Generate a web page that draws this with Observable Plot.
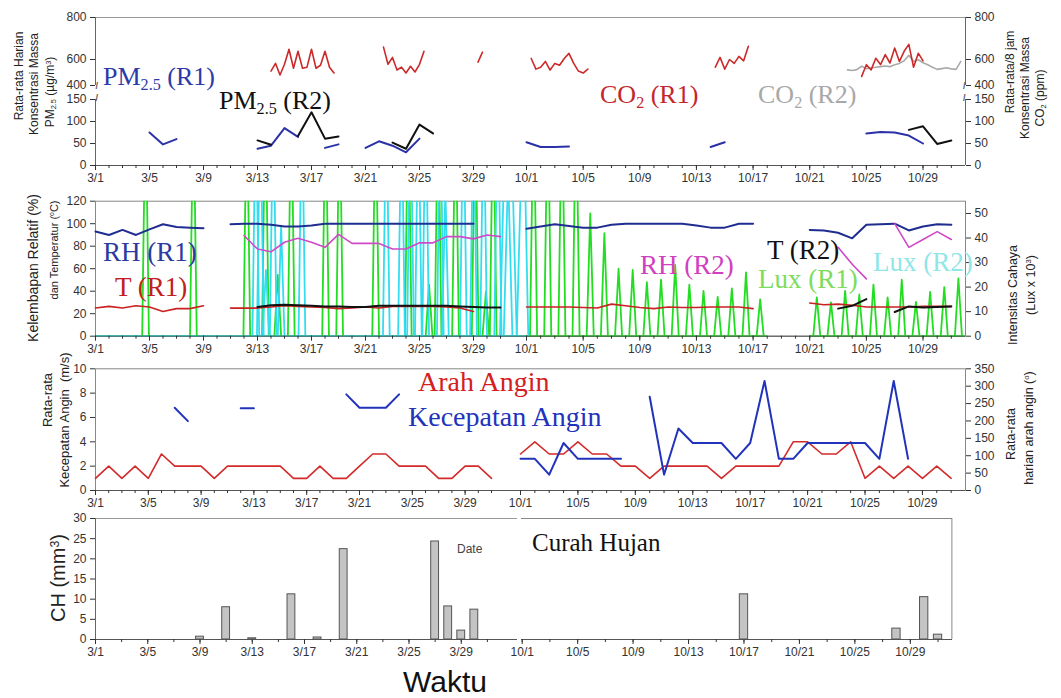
<!DOCTYPE html>
<html>
<head>
<meta charset="utf-8">
<script src="https://cdn.jsdelivr.net/npm/d3@7"></script>
<script src="https://cdn.jsdelivr.net/npm/@observablehq/plot@0.6"></script>
<style>
  html, body { margin: 0; padding: 0; background: #fff; }
  #chart { position: relative; width: 1061px; height: 698px; overflow: hidden; background: #fff; }
  #chart svg { position: absolute; }
  .t { position: absolute; white-space: nowrap; line-height: 1; font-family: "Liberation Serif", "Times New Roman", serif; }
  .s { position: absolute; white-space: nowrap; line-height: 1; font-family: "Liberation Sans", Arial, sans-serif; }
  .v { position: absolute; white-space: nowrap; line-height: 1; font-family: "Liberation Sans", Arial, sans-serif; color: #222; transform: translate(-50%, -50%) rotate(-90deg); }
  sub { font-size: 0.62em; vertical-align: -0.28em; line-height: 0; }
  sup { font-size: 0.62em; vertical-align: 0.45em; line-height: 0; }
</style>
</head>
<body>
<div id="chart"></div>
<script>
// ================= DATA =================
// x axis tick labels (March then October)
const tickLabels = ["3/1","3/5","3/9","3/13","3/17","3/21","3/25","3/29",
                    "10/1","10/5","10/9","10/13","10/17","10/21","10/25","10/29"];

// Panel 1: daily PM2.5 (ug/m3)
const pm25R1 = [
  {start: "3/5",  values: [75, 48, 60]},
  {start: "3/13", values: [38, 45, 85, 65]},
  {start: "3/18", values: [40, 48]},
  {start: "3/21", values: [40, 55, 45, 30, 61]},
  {start: "10/1", values: [53, 42, 42, 43]},
  {start: "10/14", values: [42, 53]},
  {start: "10/25", values: [73, 76, 75, 68, 50]}
];
const pm25R2 = [
  {start: "3/13", values: [57, 47]},
  {start: "3/16", values: [67, 121, 61, 66]},
  {start: "3/23", values: [52, 38, 93, 73]},
  {start: "10/28", values: [81, 89, 49, 57]}
];
// Panel 1: 8-hourly CO2 (ppm), start date + start hour
const co2R1 = [
  {start: "3/14", hour: 0,  values: [511, 570, 481, 563, 649, 533, 639, 533, 541, 649, 533, 556, 639, 541, 496]},
  {start: "3/22", hour: 8,  values: [659, 563, 610, 519, 541, 496, 548, 504, 563, 639]},
  {start: "3/29", hour: 8,  values: [580, 635]},
  {start: "10/1", hour: 8,  values: [605, 526, 541, 585, 519, 570, 556, 605, 629, 570, 511, 496, 526]},
  {start: "10/14", hour: 8, values: [541, 610, 526, 600, 570, 615, 590, 663]},
  {start: "10/24", hour: 16, values: [470, 560, 520, 606, 561, 623, 573, 655, 585, 639, 672, 540, 630, 590]}
];
const co2R2 = [
  {start: "10/23", hour: 16, values: [520, 515, 522, 548, 530, 535, 540, 545, 550, 545, 560, 570, 590, 620, 585, 598, 575, 560, 540, 524, 530, 536, 528, 524, 585]}
];
const pmTicks = [0, 50, 100, 150, 400, 600, 800];

// Panel 2: daily RH (%) and T (C)
const rhR1 = [
  {start: "3/1",  values: [93, 90, 94.5, 90, 95, 99.5, 97, 96.5, 96]},
  {start: "3/11", values: [99.5, 100, 100, 99, 97.5, 97.5, 98.5, 100, 100, 100, 100, 100, 100, 100, 100, 100, 100, 100, 100]},
  {start: "10/1", values: [95.5, 97.5, 99.5, 98, 96.5, 96.5, 99, 100, 100, 100, 100, 100, 98.5, 96.5, 96.5, 100, 100]},
  {start: "10/21", values: [94.5, 94, 92, 87, 99, 99.5, 100, 94, 97.5, 99.5, 99]}
];
const rhR2 = [
  {start: "3/12", values: [89.5, 77.5, 75, 83.5, 87, 83.5, 79, 90.5, 82.5, 82.5, 82.5, 77.5, 77.5, 83, 83, 88.5, 88.5, 86.5, 90, 88.5]},
  {start: "10/23", values: [79, 64, 51]},
  {start: "10/27", values: [100, 79, 86, 93, 86]}
];
const tR1 = [
  {start: "3/1",  values: [25, 26.5, 25, 27, 26, 22, 24.5, 24.5, 27]},
  {start: "3/11", values: [25, 25, 25, 26, 27, 26.5, 26, 25.5, 24.5, 25, 26, 25, 26.5, 26.5, 26.5, 26.5, 26, 25, 22]},
  {start: "10/1", values: [26, 26, 26, 26, 25.5, 25, 28.5, 27, 25.5, 24.5, 26, 25.5, 25.5, 26, 26, 26, 24.5]},
  {start: "10/21", values: [29.5, 28, 28.5, 27.5, 26, 26, 26, 26, 26.5, 26.5, 26.5]}
];
const tR2 = [
  {start: "3/13", values: [26, 27.5, 28, 27.5, 27, 26.5, 26.5, 26, 26, 27, 27, 27, 27, 27, 27, 26.5, 26, 25.5, 25.5]},
  {start: "10/23", values: [24.5, 27, 33]},
  {start: "10/27", values: [21.5, 26.5, 25.5, 26, 26.5]}
];
// Panel 2: light intensity (Lux x 1000) - recording spans and daily peaks [date, hour, peak]
const luxR1Spans = [["3/1", "3/31"], ["10/1", "10/17"], ["10/21", "10/31"]];
const luxR1Peaks = [
  ["3/4",17,100],["3/8",6,100],["3/12",5,100],["3/13",14,100],["3/14",12,25],["3/15",12,100],
  ["3/18",1,100],["3/19",2,100],["3/21",18,100],["3/24",4,100],["3/25",17,21],["3/26",9,100],
  ["3/27",16,100],["3/29",3,100],["3/29",22,18],["3/30",11,100],
  ["10/1",12,100],["10/2",12,100],["10/3",12,100],["10/4",12,100],["10/5",12,50],["10/6",12,42],
  ["10/7",12,27.5],["10/8",12,27],["10/9",12,22],["10/10",12,23],["10/11",12,29],["10/12",12,21],
  ["10/13",12,18.5],["10/14",12,16],["10/15",12,19.5],["10/16",12,26],["10/17",12,15],
  ["10/21",12,15.8],["10/22",12,13.8],["10/23",12,18.5],["10/24",12,17],["10/25",12,21],["10/26",12,15.8],
  ["10/27",12,23],["10/28",12,14],["10/29",12,18],["10/30",12,20],["10/31",12,23.5]
];
const luxR2Spans = [["3/1", "3/31"]];
const luxR2Peaks = [
  ["3/12",21,100],["3/13",5,100],["3/13",15,27],["3/14",4,100],["3/14",18,45],["3/16",7,100],
  ["3/22",13,100],["3/23",16,100],["3/24",8,100],["3/24",22,100],["3/25",11,100],["3/26",13,100],
  ["3/26",22,60],["3/28",6,100],["3/29",0,100],["3/29",18,100],["3/30",19,100],["3/31",5,100],
  ["3/31",9,100],["3/31",21,100]
];
const rhTicks = [0, 20, 40, 60, 80, 100, 120];
const luxTicks = [0, 10, 20, 30, 40, 50];

// Panel 3: wind
const windDirMarch = [35,70,35,70,35,105,70,70,70,35,70,70,70,70,70,35,35,70,35,35,70,105,105,70,70,70,35,35,70,70,35];
const windDirOct   = [105,140,105,105,140,105,105,70,70,35,70,70,70,70,35,70,70,70,70,140,140,105,105,140,35,70,35,70,35,70,35];
const windSpeed = [
  {start: "3/7",  values: [6.8, 5.7]},
  {start: "3/12", values: [6.75, 6.75]},
  {start: "3/20", values: [7.9, 6.8, 6.8, 6.8, 7.9]},
  {start: "10/1", values: [2.6, 2.6, 1.3, 3.9, 2.6, 2.6, 2.6, 2.6]},
  {start: "10/10", values: [7.7, 1.3, 5.1, 3.9, 3.9, 3.9, 2.6, 3.9, 9.0, 2.6, 2.6, 3.9, 3.9, 3.9, 3.9, 3.9, 2.6, 9.0, 2.6]}
];
const speedTicks = [0, 2, 4, 6, 8, 10];
const dirTicks = [0, 50, 100, 150, 200, 250, 300, 350];

// Panel 4: rainfall
const rainDates  = ["3/9","3/11","3/13","3/16","3/18","3/20","3/27","3/28","3/29","3/30","10/17","10/28","10/30","10/31"];
const rainValues = [0.7, 8.0, 0.3, 11.2, 0.5, 22.4, 24.3, 8.2, 2.2, 7.4, 11.2, 2.7, 10.5, 1.2];
const rainTicks = [0, 5, 10, 15, 20, 25, 30];

// ================= HELPERS =================
const dayIndex = s => { const [m, d] = s.split("/").map(Number); return m === 3 ? d - 1 : 30 + d; };
const majorTicks = tickLabels.map(dayIndex);
const labelOf = i => tickLabels[majorTicks.indexOf(i)] ?? "";
const seriesRows = (segs, stepHours = 24) => segs.flatMap((s, k) => {
  const t0 = dayIndex(s.start) + (s.hour || 0) / 24;
  return s.values.map((v, i) => ({t: t0 + i * stepHours / 24, v, seg: k}));
});
const spikeRows = peaks => peaks.flatMap(([d, h, v], k) => {
  const t = dayIndex(d) + h / 24;
  return [{t: t - 0.25, v: 0, k}, {t, v, k}, {t: t + 0.25, v: 0, k}];
});
const spanRows = spans => spans.map(([a, b]) => ({a: dayIndex(a), b: dayIndex(b) + 1}));
const style = {background: "transparent", fontFamily: '"Liberation Sans", Arial, sans-serif', fontSize: "12px", color: "#333", overflow: "visible"};
const xAxes = (minor, majors) => [
  Plot.axisX({ticks: minor, tickSize: 3, tickFormat: () => "", label: null}),
  Plot.axisX({ticks: majors, tickSize: 5, tickPadding: 3, tickFormat: labelOf, label: null})
];
const allDays = d3.range(0, 62);
const chart = document.getElementById("chart");
function place(svg, top, left = 0) { svg.style.top = top + "px"; svg.style.left = left + "px"; chart.appendChild(svg); }

// ================= PANEL 1 =================
const breakMark = (anchor, dy) => Plot.text(["/"], {frameAnchor: anchor, dy, fontSize: 9, fontWeight: "bold", fill: "#555"});
const p1 = Plot.plot({
  width: 1061, height: 190, marginLeft: 95, marginRight: 96, marginTop: 17, marginBottom: 25,
  x: {type: "linear", domain: [0, 30, 31, 62], range: [95, 500, 526, 965], axis: null},
  y: {type: "linear", domain: [0, 150, 400, 600, 800], range: [165, 99, 85, 59, 17], axis: null},
  style,
  marks: [
    Plot.ruleY([800], {stroke: "#999"}),
    Plot.ruleY([0], {stroke: "#555"}),
    Plot.ruleX([0, 62], {y1: 0, y2: 150, stroke: "#666"}),
    Plot.ruleX([0, 62], {y1: 400, y2: 800, stroke: "#666"}),
    breakMark("left", -5), breakMark("left", 7),
    breakMark("right", -5), breakMark("right", 7),
    Plot.axisY({ticks: pmTicks, tickSize: 5, label: null}),
    Plot.axisY({ticks: pmTicks, tickSize: 5, anchor: "right", label: null}),
    ...xAxes(allDays, majorTicks),
    Plot.line(seriesRows(co2R2, 8), {x: "t", y: "v", z: "seg", stroke: "#aaaaaa", strokeWidth: 1.6}),
    Plot.line(seriesRows(co2R1, 8), {x: "t", y: "v", z: "seg", stroke: "#cc2a2a", strokeWidth: 1.6}),
    Plot.line(seriesRows(pm25R1), {x: "t", y: "v", z: "seg", stroke: "#2b32a8", strokeWidth: 2}),
    Plot.line(seriesRows(pm25R2), {x: "t", y: "v", z: "seg", stroke: "#111", strokeWidth: 2})
  ]
});
place(p1, 0);

// ================= PANEL 2 =================
const luxK = 120 / 55;
const p2 = Plot.plot({
  width: 1061, height: 172, marginLeft: 95, marginRight: 96, marginTop: 10.7, marginBottom: 26.3,
  x: {type: "linear", domain: [0, 30, 31, 62], range: [95, 500, 526, 965], axis: null},
  y: {domain: [0, 120], axis: null},
  style,
  marks: [
    Plot.frame({stroke: "#888"}),
    Plot.ruleY(spanRows(luxR1Spans), {x1: "a", x2: "b", y: 0, stroke: "#22dd22", strokeWidth: 1.8}),
    Plot.ruleY(spanRows(luxR2Spans), {x1: "a", x2: "b", y: 0, stroke: "#33ddf0", strokeWidth: 1.8}),
    Plot.line(spikeRows(luxR1Peaks), {x: "t", y: d => d.v * luxK, z: "k", stroke: "#22dd22", strokeWidth: 1.8, clip: true}),
    Plot.line(spikeRows(luxR2Peaks), {x: "t", y: d => d.v * luxK, z: "k", stroke: "#33ddf0", strokeWidth: 1.8, clip: true}),
    Plot.ruleY([0], {stroke: "#555"}),
    Plot.axisY({ticks: rhTicks, tickSize: 5, label: null}),
    Plot.axisY({ticks: luxTicks.map(v => v * luxK), tickFormat: v => Math.round(v / luxK), tickSize: 5, anchor: "right", label: null}),
    ...xAxes(allDays, majorTicks),
    Plot.line(seriesRows(rhR1), {x: "t", y: "v", z: "seg", stroke: "#1e2d8f", strokeWidth: 2}),
    Plot.line(seriesRows(rhR2), {x: "t", y: "v", z: "seg", stroke: "#d048c8", strokeWidth: 1.6}),
    Plot.line(seriesRows(tR1), {x: "t", y: "v", z: "seg", stroke: "#c82222", strokeWidth: 1.6}),
    Plot.line(seriesRows(tR2), {x: "t", y: "v", z: "seg", stroke: "#111", strokeWidth: 2})
  ]
});
place(p2, 190);

// ================= PANEL 3 =================
const dirK = 10 / 350;
const windDir = [{start: "3/1", values: windDirMarch}, {start: "10/1", values: windDirOct}];
const p3 = Plot.plot({
  width: 1061, height: 146, marginLeft: 95, marginRight: 96, marginTop: 6.3, marginBottom: 18,
  x: {type: "linear", domain: [0, 30, 31, 62], range: [95, 491, 520, 965], axis: null},
  y: {domain: [0, 10], axis: null},
  style,
  marks: [
    Plot.frame({stroke: "#888"}),
    Plot.ruleY([0], {stroke: "#555"}),
    Plot.axisY({ticks: speedTicks, tickSize: 5, label: null}),
    Plot.axisY({ticks: dirTicks.map(v => v * dirK), tickFormat: v => Math.round(v / dirK), tickSize: 5, anchor: "right", label: null}),
    ...xAxes(allDays, majorTicks),
    Plot.line(seriesRows(windDir), {x: "t", y: d => d.v * dirK, z: "seg", stroke: "#d42a2a", strokeWidth: 1.6}),
    Plot.line(seriesRows(windSpeed), {x: "t", y: "v", z: "seg", stroke: "#2233bb", strokeWidth: 2})
  ]
});
place(p3, 362);

// ================= PANEL 4 =================
const rain = rainDates.map((d, i) => ({t: dayIndex(d), v: rainValues[i]}));
const barMarks = data => Plot.rectY(data, {x1: d => d.t - 0.3, x2: d => d.t + 0.3, y: "v", fill: "#c4c4c4", stroke: "#555", strokeWidth: 1});
const p4a = Plot.plot({
  width: 519, height: 160, marginLeft: 95, marginRight: 2, marginTop: 10, marginBottom: 29,
  x: {type: "linear", domain: [0, 32], range: [95, 513], axis: null},
  y: {domain: [0, 30], axis: null},
  style,
  marks: [
    Plot.ruleY([30], {stroke: "#999"}),
    Plot.ruleX([0], {y1: 0, y2: 30, stroke: "#666"}),
    Plot.ruleY([0], {stroke: "#555"}),
    Plot.axisY({ticks: rainTicks, tickSize: 5, label: null}),
    ...xAxes(d3.range(0, 32, 2), majorTicks.filter(i => i <= 30)),
    barMarks(rain.filter(d => d.t <= 30))
  ]
});
place(p4a, 508, 0);
const p4b = Plot.plot({
  width: 542, height: 160, marginLeft: 2, marginRight: 109, marginTop: 10, marginBottom: 29,
  x: {type: "linear", domain: [31, 62], range: [2.7, 432.4], axis: null},
  y: {domain: [0, 30], axis: null},
  style,
  marks: [
    Plot.ruleY([30], {stroke: "#888"}),
    Plot.ruleX([62], {y1: 0, y2: 30, stroke: "#888"}),
    Plot.ruleY([0], {stroke: "#555"}),
    ...xAxes(d3.range(31, 63, 2), majorTicks.filter(i => i > 30)),
    barMarks(rain.filter(d => d.t > 30))
  ]
});
place(p4b, 508, 519);

// ================= TEXT =================
function txt(html, left, top, size, color, cls = "t") {
  const el = document.createElement("div");
  el.className = cls; el.innerHTML = html;
  Object.assign(el.style, {left: left + "px", top: top + "px", fontSize: size + "px", color});
  chart.appendChild(el);
}
function vtxt(html, cx, cy, size) {
  const el = document.createElement("div");
  el.className = "v"; el.innerHTML = html;
  Object.assign(el.style, {left: cx + "px", top: cy + "px", fontSize: size + "px"});
  chart.appendChild(el);
}
// panel 1
txt("PM<sub>2.5</sub> (R1)", 103, 64, 26, "#2b3aa8");
txt("PM<sub>2.5</sub> (R2)", 219, 88, 26, "#111");
txt("CO<sub>2</sub> (R1)", 600, 82, 26, "#c4262b");
txt("CO<sub>2</sub> (R2)", 758, 82, 26, "#a8a8a8");
vtxt("Rata-rata Harian", 19, 76, 12);
vtxt("Konsentrasi Massa", 34, 84, 12);
vtxt("PM<sub>2.5</sub> (&micro;g/m<sup>3</sup>)", 50, 92, 12);
vtxt("Rata-rata/8 jam", 1010, 72, 12);
vtxt("Konsentrasi Massa", 1025, 88, 12);
vtxt("CO<sub>2</sub> (ppm)", 1040, 98, 12);
// panel 2
txt("RH (R1)", 103, 239, 27, "#2b3aa0");
txt("T (R1)", 115, 274, 27, "#c02020");
txt("RH (R2)", 640, 252, 27, "#d040c0");
txt("T (R2)", 767, 237, 27, "#111");
txt("Lux (R1)", 758, 266, 27, "#7ddc5a");
txt("Lux (R2)", 873, 249, 27, "#8ee6e6");
vtxt("Kelembapan Relatif (%)", 33, 268, 14);
vtxt("dan Temperatur (<sup>o</sup>C)", 54, 250, 11);
vtxt("Intensitas Cahaya", 1013, 295, 12.5);
vtxt("(Lux x 10<sup>3</sup>)", 1031, 285, 12.5);
// panel 3
txt("Arah Angin", 418, 368, 28, "#d42020");
txt("Kecepatan Angin", 408, 403, 28, "#2233bb");
vtxt("Rata-rata", 47, 400, 13);
vtxt("Kecepatan Angin&nbsp;&nbsp;(m/s)", 64, 420, 13);
vtxt("Rata-rata", 1011, 434, 12.5);
vtxt("harian arah angin (<sup>o</sup>)", 1029, 428, 12.5);
// panel 4
txt("Curah Hujan", 532, 530, 25, "#111");
txt("Date", 457, 543, 12, "#444", "s");
txt("Waktu", 403, 667, 30, "#111", "s");
vtxt("CH (mm<sup>3</sup>)", 58, 578, 20);
</script>
</body>
</html>
